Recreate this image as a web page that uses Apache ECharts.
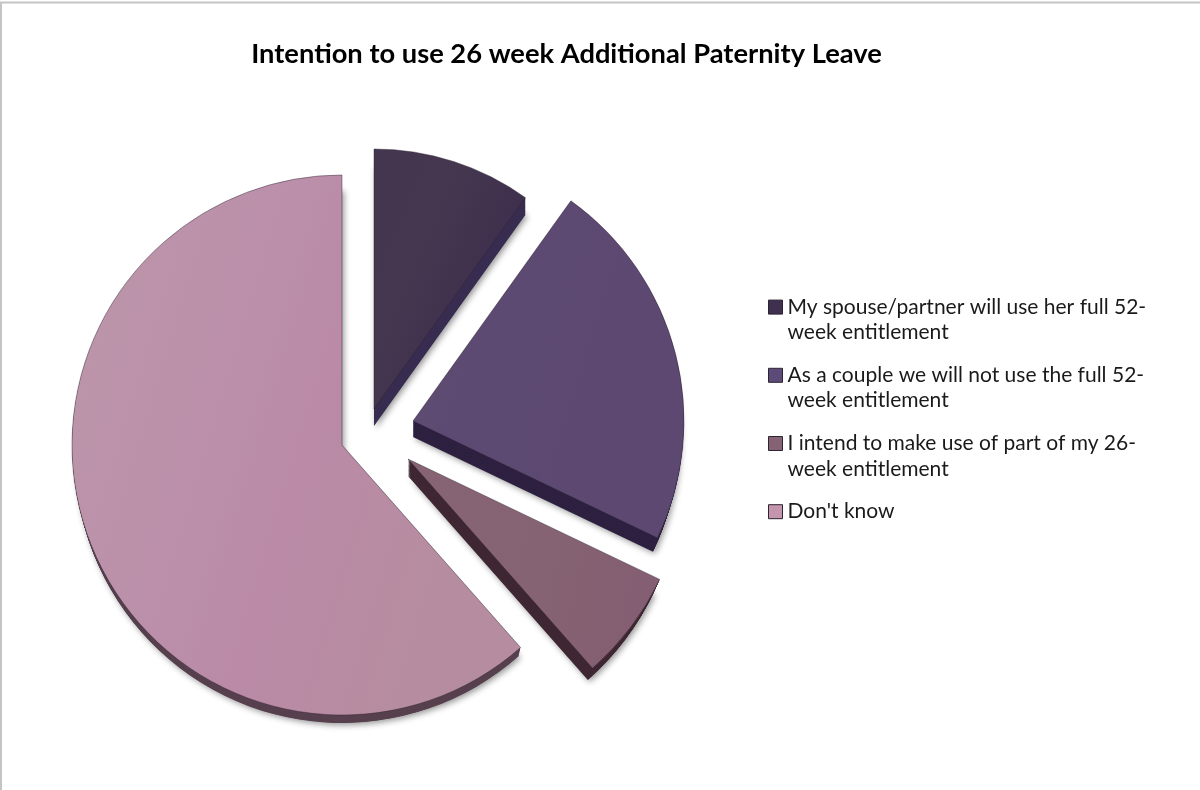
<!DOCTYPE html>
<html>
<head>
<meta charset="utf-8">
<title>Intention to use 26 week Additional Paternity Leave</title>
<script src="https://cdn.jsdelivr.net/npm/echarts@6/dist/echarts.min.js"></script>
<style>
html,body{margin:0;padding:0;background:#fff}
#chart{width:1200px;height:790px}
</style>
</head>
<body>
<div id="chart"></div>
<script>
const titleText = 'Intention to use 26 week Additional Paternity Leave';
const categories = [
  'My spouse/partner will use her full 52-week entitlement',
  'As a couple we will not use the full 52-week entitlement',
  'I intend to make use of part of my 26-week entitlement',
  "Don't know"
];
// The leading blank line keeps each swatch level with the first line of its label.
const legendLines = {
  [categories[0]]: '\nMy spouse/partner will use her full 52-\nweek entitlement',
  [categories[1]]: '\nAs a couple we will not use the full 52-\nweek entitlement',
  [categories[2]]: '\nI intend to make use of part of my 26-\nweek entitlement',
  [categories[3]]: "\nDon't know\n "
};
const shares = [9.9, 22.2, 6.4, 61.5];

// Exploded wedge placement: top face and the bottom of the raised rim below it.
const faceCentres = [[374, 409], [413, 421], [408, 459], [342, 445]];
const faceRadii = [260, 271, 279, 270];
const rimCentres = [[374, 426], [413, 437], [408, 476], [342, 456]];
const rimRadii = [260, 266, 272, 267];
const rimLayers = 18;

const faceStops = [
  [['#43364f', 0], ['#44374f', 0.5], ['#3e2f4d', 1]],
  [['#5e5072', 0], ['#5d4a72', 0.35], ['#5c4870', 1]],
  [['#866473', 0], ['#856372', 0.6], ['#845e72', 1]],
  [['#bc97a9', 0], ['#bb8faa', 0.45], ['#ba8aa6', 0.65], ['#b68da0', 1]]
];
const rimColors = ['#382c50', '#2e2140', '#3e2632', '#58414f'];
const swatchColors = ['#3f304f', '#5c4a78', '#866374', '#c495ad'];

function faceFill(i) {
  return new echarts.graphic.LinearGradient(0, 0, 1, 0.25,
    faceStops[i].map(function (s) { return { color: s[0], offset: s[1] }; }));
}

// Every wedge is its own pie so that it can sit on its own centre;
// its sweep follows the running total of the shares.
function wedge(i, centre, radius, itemStyle, z) {
  const before = shares.slice(0, i).reduce(function (a, b) { return a + b; }, 0);
  const total = shares.reduce(function (a, b) { return a + b; }, 0);
  const start = 90 - before / total * 360;
  const end = start - shares[i] / total * 360;
  return {
    type: 'pie',
    silent: true,
    z: z,
    center: centre,
    radius: [0, radius],
    startAngle: start,
    endAngle: end,
    clockwise: true,
    label: { show: false },
    labelLine: { show: false },
    animation: false,
    itemStyle: itemStyle,
    data: [{ name: categories[i], value: shares[i] }]
  };
}

const series = [];
categories.forEach(function (c, i) {
  series.push(wedge(i, faceCentres[i], faceRadii[i], {
    color: faceFill(i),
    borderColor: 'rgba(40,28,45,0.6)',
    borderWidth: 0.7
  }, 3));
});
// The rim is a stack of copies from the bottom up, the lowest one casting the shadow.
categories.forEach(function (c, i) {
  for (let k = rimLayers; k >= 1; k--) {
    const t = k / rimLayers;
    const cx = faceCentres[i][0] + (rimCentres[i][0] - faceCentres[i][0]) * t;
    const cy = faceCentres[i][1] + (rimCentres[i][1] - faceCentres[i][1]) * t;
    const r = faceRadii[i] + (rimRadii[i] - faceRadii[i]) * t;
    const style = { color: rimColors[i] };
    if (k === rimLayers) {
      style.shadowBlur = 6;
      style.shadowColor = 'rgba(0,0,0,0.42)';
      style.shadowOffsetX = 2;
      style.shadowOffsetY = 2;
    }
    series.push(wedge(i, [cx, cy], r, style, 2));
  }
});

const chart = echarts.init(document.getElementById('chart'), null, { renderer: 'canvas' });
chart.setOption({
  backgroundColor: '#ffffff',
  animation: false,
  title: {
    text: titleText,
    left: 561.5,
    top: 36,
    textAlign: 'center',
    textStyle: { fontFamily: 'Lato', fontWeight: 'bold', fontSize: 27.3, color: '#000000' }
  },
  legend: {
    orient: 'vertical',
    left: 763,
    top: 264,
    icon: 'rect',
    itemWidth: 14,
    itemHeight: 14,
    itemGap: -8,
    selectedMode: false,
    formatter: function (name) { return legendLines[name]; },
    textStyle: {
      fontFamily: 'Lato',
      fontSize: 21,
      lineHeight: 25.4,
      color: '#1a1a1a'
    },
    data: categories.map(function (c, i) {
      return {
        name: c,
        itemStyle: { color: swatchColors[i], borderColor: '#2c2430', borderWidth: 1 }
      };
    })
  },
  graphic: [
    { type: 'line', silent: true, shape: { x1: 0, y1: 2.5, x2: 1200, y2: 2.5 }, style: { stroke: '#c4c4c4', lineWidth: 2 } },
    { type: 'line', silent: true, shape: { x1: 1, y1: 2, x2: 1, y2: 790 }, style: { stroke: '#c4c4c4', lineWidth: 2 } }
  ],
  series: series
});
</script>
</body>
</html>
